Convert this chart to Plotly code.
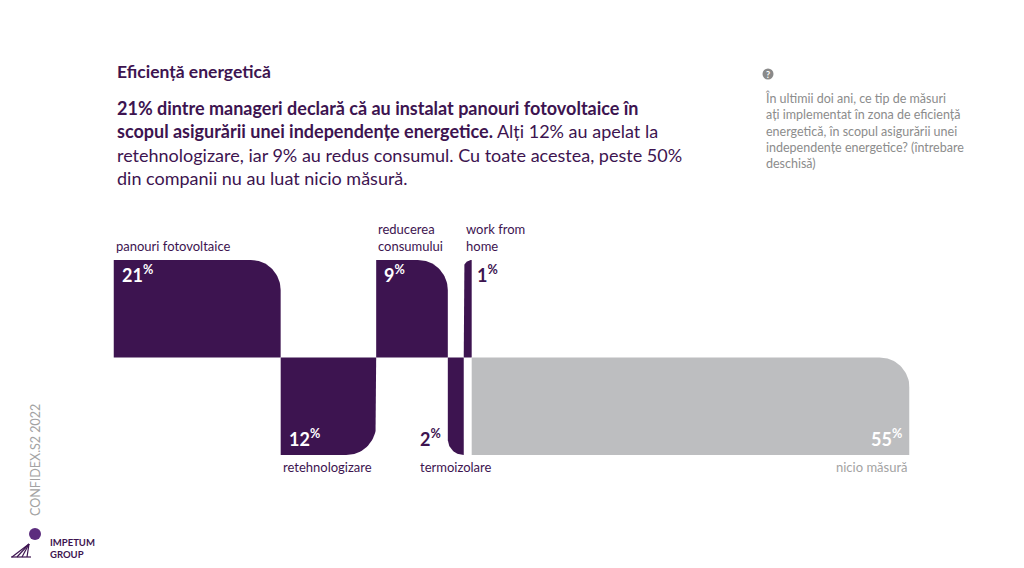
"""Eficiență energetică - staircase of measures taken (Confidex S2 2022)."""

import numpy as np
import plotly.graph_objects as go

# --- data -------------------------------------------------------------
categories = [
    "panouri fotovoltaice",
    "retehnologizare",
    "reducerea consumului",
    "termoizolare",
    "work from home",
    "nicio măsură",
]
category_labels = [
    "panouri fotovoltaice",
    "retehnologizare",
    "reducerea<br>consumului",
    "termoizolare",
    "work from<br>home",
    "nicio măsură",
]
values = [21, 12, 9, 2, 1, 55]
directions = [1, -1, 1, -1, 1, -1]  # above / below the baseline

# --- styling ----------------------------------------------------------
OFF = 8  # page body margin
W, H = 1024 - 2 * OFF, 568 - 2 * OFF
PURPLE = "#3d1450"
GREY = "#bdbec0"
FONT = "Lato"

colors = [PURPLE] * 5 + [GREY]
corners = ["tr", "br", "tr", "bl", "tl", "tr"]
label_align = ["left", "left", "left", "center", "left", "right"]
label_colors = [PURPLE] * 5 + ["#a3a3a3"]
value_place = ["in-left", "in-left", "in-left", "out-left", "out-right", "in-right"]

X0, X1 = 113.5, 909.5  # plot area in screen pixels
Y_TOP, Y_BOT = 260, 455
RADIUS = 30  # corner radius in px


def px(x):
    return (x - OFF) / W


def py(y):
    return 1 - (y - OFF) / H


x_scale = (X1 - X0) / 100.0
y_scale = (Y_BOT - Y_TOP) / 2.0


def outline(x0, x1, y0, y1, corner):
    """Rectangle with a single rounded corner, in data units."""
    r_px = min(RADIUS, (x1 - x0) * x_scale)
    rx, ry = r_px / x_scale, r_px / y_scale
    lo, hi = min(y0, y1), max(y0, y1)
    pts = {
        "bl": ((x0, lo), (x0 + rx, lo + ry), (-90, -180)),
        "tl": ((x0, hi), (x0 + rx, hi - ry), (180, 90)),
        "tr": ((x1, hi), (x1 - rx, hi - ry), (90, 0)),
        "br": ((x1, lo), (x1 - rx, lo + ry), (0, -90)),
    }
    xs, ys = [], []
    for key in ["bl", "tl", "tr", "br"]:
        (cx, cy), (ax, ay), (a0, a1) = pts[key]
        if key == corner:
            t = np.radians(np.linspace(a0, a1, 24))
            xs.extend(ax + rx * np.cos(t))
            ys.extend(ay + ry * np.sin(t))
        else:
            xs.append(cx)
            ys.append(cy)
    xs.append(xs[0])
    ys.append(ys[0])
    return xs, ys


fig = go.Figure()
starts = np.cumsum([0] + values[:-1])
annotations = []

for i, cat in enumerate(categories):
    x0, x1 = starts[i], starts[i] + values[i]
    d = directions[i]
    xs, ys = outline(x0, x1, 0, d, corners[i])
    fig.add_trace(
        go.Scatter(
            x=xs,
            y=ys,
            fill="toself",
            fillcolor=colors[i],
            mode="lines",
            line=dict(width=0),
            name=cat,
            hoveron="fills",
            text=f"{cat}: {values[i]}%",
            hoverinfo="text",
        )
    )

    # category label
    ax = {"left": x0, "center": (x0 + x1) / 2, "right": x1}[label_align[i]]
    annotations.append(
        dict(
            x=ax,
            y=d,
            xref="x",
            yref="y",
            text=category_labels[i],
            showarrow=False,
            xanchor=label_align[i],
            yanchor="bottom" if d > 0 else "top",
            yshift=4 if d > 0 else -2,
            align="left",
            font=dict(family=FONT, size=13, color=label_colors[i]),
        )
    )

    # value label
    place = value_place[i]
    if place == "in-left":
        vx, xa, xs_, col = x0, "left", 6, "white"
    elif place == "in-right":
        vx, xa, xs_, col = x1, "right", -6, "white"
    elif place == "out-left":
        vx, xa, xs_, col = x0, "right", -5, PURPLE
    else:
        vx, xa, xs_, col = x1, "left", 3, PURPLE
    annotations.append(
        dict(
            x=vx,
            y=d,
            xref="x",
            yref="y",
            text=f"<b>{values[i]}<sup>%</sup></b>",
            showarrow=False,
            xanchor=xa,
            yanchor="top" if d > 0 else "bottom",
            xshift=xs_,
            yshift=0 if d > 0 else 3,
            font=dict(family=FONT, size=18, color=col),
        )
    )

# --- header texts -----------------------------------------------------
annotations += [
    dict(
        x=px(115), y=py(72), xref="paper", yref="paper",
        text="<b>Eficiență energetică</b>", showarrow=False,
        xanchor="left", yanchor="middle",
        font=dict(family=FONT, size=17.5, color=PURPLE),
    ),
    dict(
        x=px(115), y=py(95), xref="paper", yref="paper",
        text=(
            "<b>21% dintre manageri declară că au instalat panouri fotovoltaice în<br>"
            "scopul asigurării unei independențe energetice.</b> Alți 12% au apelat la<br>"
            "retehnologizare, iar 9% au redus consumul. Cu toate acestea, peste 50%<br>"
            "din companii nu au luat nicio măsură."
        ),
        showarrow=False, xanchor="left", yanchor="top", align="left",
        font=dict(family=FONT, size=18, color=PURPLE),
    ),
    dict(
        x=px(763), y=py(88), xref="paper", yref="paper",
        text=(
            "În ultimii doi ani, ce tip de măsuri<br>"
            "ați implementat în zona de eficiență<br>"
            "energetică, în scopul asigurării unei<br>"
            "independențe energetice? (întrebare<br>"
            "deschisă)"
        ),
        showarrow=False, xanchor="left", yanchor="top", align="left",
        font=dict(family=FONT, size=12.5, color="#8c8c8c"),
    ),
    dict(
        x=px(768), y=py(74.5), xref="paper", yref="paper",
        text="<b>?</b>", showarrow=False, xanchor="center", yanchor="middle",
        font=dict(family=FONT, size=9, color="white"),
    ),
    dict(
        x=px(35), y=py(460), xref="paper", yref="paper",
        text="CONFIDEX.S2 2022", textangle=-90, showarrow=False,
        xanchor="center", yanchor="middle",
        font=dict(family=FONT, size=12.5, color="#a3a3a3"),
    ),
    dict(
        x=px(49), y=py(548), xref="paper", yref="paper",
        text="<b>IMPETUM<br>GROUP</b>", showarrow=False, align="left",
        xanchor="left", yanchor="middle", borderpad=0,
        font=dict(family=FONT, size=9.5, color=PURPLE),
    ),
]

# --- decorative shapes (question icon, logo) ---------------------------
shapes = [
    dict(
        type="circle", xref="paper", yref="paper", layer="below",
        x0=px(762.5), x1=px(773.5), y0=py(79.5), y1=py(68.5),
        fillcolor="#8a8a8a", line=dict(width=0),
    ),
    dict(
        type="circle", xref="paper", yref="paper",
        x0=px(29), x1=px(41), y0=py(540), y1=py(528),
        fillcolor="#5c2d7e", line=dict(width=0),
    ),
    dict(
        type="line", xref="paper", yref="paper",
        x0=px(11), x1=px(31), y0=py(557), y1=py(557),
        line=dict(color=PURPLE, width=1.2),
    ),
]
for bx in [12, 17, 22, 27]:
    shapes.append(
        dict(
            type="line", xref="paper", yref="paper",
            x0=px(bx), x1=px(29), y0=py(557), y1=py(544),
            line=dict(color=PURPLE, width=1.2),
        )
    )

fig.update_layout(
    width=W,
    height=H,
    margin=dict(l=0, r=0, t=0, b=0),
    paper_bgcolor="white",
    plot_bgcolor="white",
    showlegend=False,
    xaxis=dict(
        domain=[px(X0), px(X1)], range=[0, 100], visible=False, fixedrange=True
    ),
    yaxis=dict(
        domain=[py(Y_BOT), py(Y_TOP)], range=[-1, 1], visible=False, fixedrange=True
    ),
    annotations=annotations,
    shapes=shapes,
)

fig.write_html("out.html")
